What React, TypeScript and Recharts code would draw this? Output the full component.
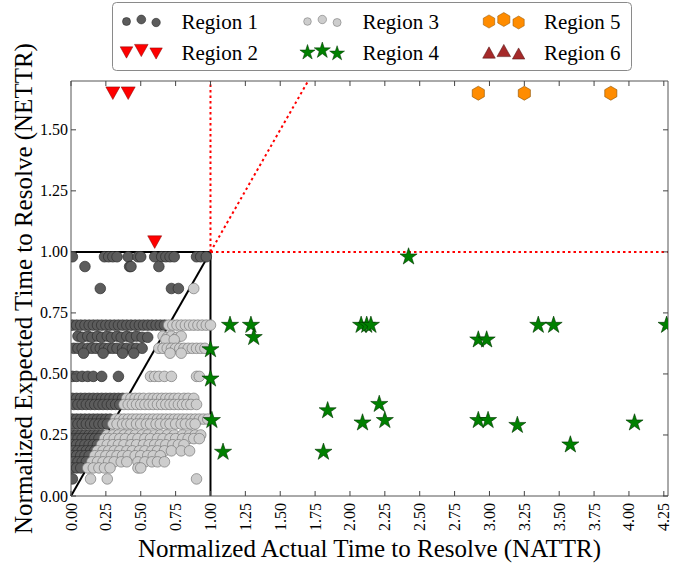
import React from 'react';
import { ScatterChart, Scatter, XAxis, YAxis, ReferenceLine } from 'recharts';

const FONT = 'Liberation Serif';

const X_MAX = 4.28;
const Y_MAX = 1.7;

const xTicks = [0, 0.25, 0.5, 0.75, 1, 1.25, 1.5, 1.75, 2, 2.25, 2.5, 2.75, 3, 3.25, 3.5, 3.75, 4, 4.25];
const yTicks = [0, 0.25, 0.5, 0.75, 1, 1.25, 1.5];

// Region 1: inside the unit box, NETTR >= NATTR
const region1: [number, number][] = [
  [0.01, 0.98], [0.24, 0.98], [0.27, 0.98], [0.3, 0.98], [0.33, 0.98], [0.41, 0.98], [0.48, 0.98], [0.5, 0.98],
  [0.6, 0.98], [0.65, 0.98], [0.68, 0.98], [0.71, 0.98], [0.74, 0.98], [0.9, 0.98], [0.93, 0.98], [0.97, 0.98],
  [0.1, 0.94], [0.42, 0.94], [0.43, 0.94], [0.63, 0.94],
  [0.21, 0.85], [0.72, 0.85], [0.77, 0.85],
  [0.01, 0.7], [0.04, 0.7], [0.07, 0.7], [0.1, 0.7], [0.13, 0.7], [0.16, 0.7], [0.19, 0.7], [0.22, 0.7],
  [0.25, 0.7], [0.28, 0.7], [0.31, 0.7], [0.34, 0.7], [0.37, 0.7], [0.4, 0.7], [0.43, 0.7], [0.46, 0.7],
  [0.49, 0.7], [0.52, 0.7], [0.55, 0.7], [0.58, 0.7], [0.61, 0.7], [0.64, 0.7], [0.67, 0.7],
  [0.05, 0.655], [0.08, 0.65], [0.12, 0.655], [0.15, 0.65], [0.19, 0.655], [0.22, 0.65], [0.26, 0.655],
  [0.29, 0.65], [0.33, 0.655], [0.36, 0.65], [0.4, 0.655], [0.43, 0.65], [0.47, 0.655], [0.51, 0.65], [0.55, 0.65],
  [0.02, 0.605], [0.05, 0.605], [0.08, 0.605], [0.12, 0.605], [0.15, 0.605], [0.18, 0.605], [0.21, 0.605],
  [0.24, 0.605], [0.27, 0.605], [0.3, 0.605], [0.33, 0.605], [0.37, 0.605], [0.4, 0.605], [0.44, 0.605],
  [0.47, 0.605], [0.51, 0.605],
  [0.09, 0.585], [0.23, 0.585], [0.37, 0.585], [0.45, 0.585],
  [0.01, 0.49], [0.04, 0.49], [0.08, 0.49], [0.12, 0.49], [0.16, 0.49], [0.22, 0.49], [0.34, 0.49],
  [0.01, 0.4], [0.04, 0.4], [0.07, 0.4], [0.1, 0.4], [0.13, 0.4], [0.16, 0.4], [0.19, 0.4], [0.22, 0.4],
  [0.25, 0.4], [0.28, 0.4], [0.31, 0.4], [0.34, 0.4], [0.37, 0.4],
  [0.02, 0.375], [0.05, 0.375], [0.08, 0.375], [0.11, 0.375], [0.14, 0.375], [0.17, 0.375], [0.2, 0.375],
  [0.23, 0.375], [0.26, 0.375], [0.29, 0.375], [0.32, 0.375], [0.35, 0.375],
  [0.01, 0.315], [0.04, 0.315], [0.07, 0.315], [0.1, 0.315], [0.13, 0.315], [0.16, 0.315], [0.19, 0.315],
  [0.22, 0.315], [0.25, 0.315], [0.28, 0.315],
  [0.02, 0.295], [0.05, 0.295], [0.08, 0.295], [0.11, 0.295], [0.14, 0.295], [0.17, 0.295], [0.2, 0.295],
  [0.23, 0.295], [0.26, 0.295],
  [0.01, 0.25], [0.04, 0.25], [0.07, 0.25], [0.1, 0.25], [0.13, 0.25], [0.16, 0.25], [0.19, 0.25], [0.22, 0.25],
  [0.02, 0.235], [0.05, 0.235], [0.08, 0.235], [0.11, 0.235], [0.14, 0.235], [0.17, 0.235], [0.2, 0.235],
  [0.01, 0.21], [0.04, 0.21], [0.07, 0.21], [0.1, 0.21], [0.13, 0.21], [0.16, 0.21], [0.19, 0.21],
  [0.02, 0.185], [0.05, 0.185], [0.08, 0.185], [0.11, 0.185], [0.14, 0.185], [0.17, 0.185],
  [0.01, 0.165], [0.04, 0.165], [0.07, 0.165], [0.1, 0.165], [0.13, 0.165],
  [0.02, 0.14], [0.05, 0.14], [0.08, 0.14], [0.11, 0.14],
  [0.01, 0.115], [0.04, 0.115], [0.07, 0.115],
  [0.01, 0.07],
];

// Region 3: inside the unit box, NETTR < NATTR
const region3: [number, number][] = [
  [0.88, 0.85],
  [0.7, 0.7], [0.73, 0.7], [0.76, 0.7], [0.79, 0.7], [0.82, 0.7], [0.85, 0.7], [0.88, 0.7], [0.91, 0.7],
  [0.94, 0.7], [0.97, 0.7], [1.0, 0.7],
  [0.66, 0.655], [0.69, 0.65], [0.72, 0.655], [0.76, 0.65], [0.79, 0.655], [0.68, 0.64], [0.74, 0.64],
  [0.63, 0.605], [0.66, 0.605], [0.69, 0.605], [0.72, 0.605], [0.75, 0.605], [0.78, 0.605], [0.81, 0.605],
  [0.84, 0.605], [0.87, 0.605], [0.9, 0.605], [0.93, 0.605], [0.96, 0.605],
  [0.71, 0.585], [0.79, 0.585],
  [0.57, 0.49], [0.6, 0.49], [0.63, 0.49], [0.67, 0.49], [0.72, 0.49], [0.9, 0.49], [0.92, 0.49],
  [0.4, 0.4], [0.43, 0.4], [0.46, 0.4], [0.49, 0.4], [0.52, 0.4], [0.56, 0.4], [0.59, 0.4], [0.62, 0.4],
  [0.65, 0.4], [0.68, 0.4], [0.71, 0.4], [0.74, 0.4], [0.77, 0.4], [0.81, 0.4], [0.84, 0.4], [0.88, 0.4],
  [0.38, 0.375], [0.41, 0.375], [0.44, 0.375], [0.47, 0.375], [0.5, 0.375], [0.53, 0.375], [0.56, 0.375],
  [0.59, 0.375], [0.62, 0.375], [0.65, 0.375], [0.68, 0.375], [0.71, 0.375], [0.74, 0.375], [0.77, 0.375],
  [0.8, 0.375], [0.83, 0.375], [0.86, 0.375], [0.9, 0.375],
  [0.32, 0.315], [0.35, 0.315], [0.38, 0.315], [0.41, 0.315], [0.44, 0.315], [0.47, 0.315], [0.5, 0.315],
  [0.53, 0.315], [0.56, 0.315], [0.59, 0.315], [0.62, 0.315], [0.65, 0.315], [0.68, 0.315], [0.71, 0.315],
  [0.74, 0.315], [0.77, 0.315], [0.8, 0.315], [0.83, 0.315], [0.86, 0.315], [0.89, 0.315], [0.92, 0.315],
  [0.95, 0.315], [0.98, 0.315],
  [0.3, 0.295], [0.33, 0.295], [0.37, 0.295], [0.4, 0.295], [0.43, 0.295], [0.47, 0.295], [0.5, 0.295],
  [0.54, 0.295], [0.57, 0.295], [0.61, 0.295], [0.64, 0.295], [0.68, 0.295], [0.71, 0.295], [0.75, 0.295],
  [0.79, 0.295], [0.82, 0.295], [0.86, 0.295], [0.89, 0.295],
  [0.26, 0.25], [0.3, 0.25], [0.34, 0.25], [0.38, 0.25], [0.42, 0.25], [0.46, 0.25], [0.51, 0.25],
  [0.55, 0.25], [0.6, 0.25], [0.64, 0.25], [0.69, 0.25], [0.74, 0.25], [0.8, 0.25], [0.85, 0.25],
  [0.89, 0.25], [0.93, 0.25],
  [0.24, 0.235], [0.27, 0.235], [0.31, 0.235], [0.35, 0.235], [0.39, 0.235], [0.44, 0.235], [0.48, 0.235],
  [0.53, 0.235], [0.57, 0.235], [0.62, 0.235], [0.66, 0.235], [0.71, 0.235], [0.75, 0.235], [0.8, 0.235],
  [0.84, 0.235], [0.88, 0.235], [0.92, 0.235],
  [0.22, 0.21], [0.26, 0.21], [0.3, 0.21], [0.34, 0.21], [0.38, 0.21], [0.43, 0.21], [0.47, 0.21],
  [0.52, 0.21], [0.56, 0.21], [0.6, 0.21], [0.64, 0.21], [0.68, 0.21], [0.73, 0.21], [0.77, 0.21], [0.81, 0.21],
  [0.19, 0.185], [0.23, 0.185], [0.27, 0.185], [0.31, 0.185], [0.35, 0.185], [0.4, 0.185], [0.44, 0.185],
  [0.49, 0.185], [0.53, 0.185], [0.58, 0.185], [0.62, 0.185], [0.67, 0.185], [0.72, 0.185], [0.79, 0.185],
  [0.85, 0.185],
  [0.17, 0.165], [0.21, 0.165], [0.25, 0.165], [0.29, 0.165], [0.33, 0.165], [0.37, 0.165], [0.41, 0.165],
  [0.46, 0.165], [0.5, 0.165], [0.55, 0.165], [0.59, 0.165], [0.64, 0.165],
  [0.15, 0.14], [0.19, 0.14], [0.23, 0.14], [0.27, 0.14], [0.31, 0.14], [0.36, 0.14], [0.4, 0.14],
  [0.48, 0.14], [0.53, 0.14], [0.58, 0.14], [0.62, 0.14], [0.67, 0.14],
  [0.12, 0.115], [0.16, 0.115], [0.2, 0.115], [0.24, 0.115], [0.28, 0.115], [0.48, 0.115], [0.5, 0.115],
  [0.14, 0.07], [0.26, 0.07], [0.9, 0.07],
];

// Region 2: NATTR < 1, NETTR > 1
const region2: [number, number][] = [
  [0.3, 1.65], [0.41, 1.65], [0.6, 1.04],
];

// Region 4: NATTR > 1, NETTR < 1
const region4: [number, number][] = [
  [2.42, 0.98],
  [1.14, 0.7], [1.29, 0.7], [1.31, 0.65], [2.08, 0.7], [2.12, 0.7], [2.15, 0.7],
  [2.92, 0.64], [2.98, 0.64], [3.35, 0.7], [3.46, 0.7], [4.27, 0.7],
  [1.0, 0.6], [1.0, 0.48], [1.01, 0.31],
  [1.84, 0.35], [2.21, 0.376], [2.25, 0.31], [2.09, 0.3],
  [2.92, 0.31], [2.99, 0.31], [3.2, 0.29], [4.04, 0.3],
  [3.58, 0.21], [1.09, 0.18], [1.81, 0.18],
];

// Region 5: NATTR > 1, NETTR > 1
const region5: [number, number][] = [
  [2.92, 1.65], [3.25, 1.65], [3.87, 1.65],
];

// Region 6: none in this sample
const region6: [number, number][] = [];

const toPoints = (arr: [number, number][]) => arr.map(([x, y]) => ({ x, y }));

const starPath = (cx: number, cy: number, R: number) => {
  const r = R * 0.382;
  let d = '';
  for (let i = 0; i < 10; i++) {
    const rad = i % 2 === 0 ? R : r;
    const a = (-90 + i * 36) * (Math.PI / 180);
    d += `${i === 0 ? 'M' : 'L'}${cx + rad * Math.cos(a)},${cy + rad * Math.sin(a)}`;
  }
  return d + 'Z';
};

const hexPath = (cx: number, cy: number, R: number) => {
  let d = '';
  for (let i = 0; i < 6; i++) {
    const a = (-90 + i * 60) * (Math.PI / 180);
    d += `${i === 0 ? 'M' : 'L'}${cx + R * Math.cos(a)},${cy + R * Math.sin(a)}`;
  }
  return d + 'Z';
};

const triDownPath = (cx: number, cy: number, s: number) =>
  `M${cx - s},${cy - s * 0.9}L${cx + s},${cy - s * 0.9}L${cx},${cy + s * 0.9}Z`;
const triUpPath = (cx: number, cy: number, s: number) =>
  `M${cx - s},${cy + s * 0.9}L${cx + s},${cy + s * 0.9}L${cx},${cy - s * 0.9}Z`;

const DarkDot = (p: any) => <circle cx={p.cx} cy={p.cy} r={5.3} fill="#5c5c5c" stroke="#2e2e2e" strokeWidth={0.7} />;
const LightDot = (p: any) => <circle cx={p.cx} cy={p.cy} r={5.3} fill="#cdcdcd" stroke="#7a7a7a" strokeWidth={0.7} />;
const RedTri = (p: any) => <path d={triDownPath(p.cx, p.cy, 7)} fill="#ff0000" stroke="#800000" strokeWidth={0.5} />;
const GreenStar = (p: any) => <path d={starPath(p.cx, p.cy, 9)} fill="#008000" stroke="#003300" strokeWidth={0.6} />;
const OrangeHex = (p: any) => <path d={hexPath(p.cx, p.cy, 7)} fill="#ff8c00" stroke="#8a5000" strokeWidth={0.6} />;
const BrownTri = (p: any) => <path d={triUpPath(p.cx, p.cy, 7)} fill="#a52a2a" stroke="#4a1010" strokeWidth={0.5} />;

const BottomTick = (props: any) => {
  const { x, y, payload } = props;
  const ty = y + 7;
  return (
    <g>
      <line x1={x} y1={y} x2={x} y2={y - 5} stroke="#444" />
      <text x={x} y={ty} transform={`rotate(-90 ${x} ${ty})`} textAnchor="end" dominantBaseline="central"
        fontSize={16} fontFamily={FONT} fill="#000">{payload.value.toFixed(2)}</text>
    </g>
  );
};

const LeftTick = (props: any) => {
  const { x, y, payload } = props;
  return (
    <g>
      <line x1={x} y1={y} x2={x + 5} y2={y} stroke="#444" />
      <text x={x - 3} y={y} textAnchor="end" dominantBaseline="central"
        fontSize={16} fontFamily={FONT} fill="#000">{payload.value.toFixed(2)}</text>
    </g>
  );
};

const TopTick = (props: any) => <line x1={props.x} y1={props.y} x2={props.x} y2={props.y + 5} stroke="#444" />;
const RightTick = (props: any) => <line x1={props.x} y1={props.y} x2={props.x - 5} y2={props.y} stroke="#444" />;

const legendRows = [
  [
    { label: 'Region 1', draw: (cx: number, cy: number, i: number) => <circle cx={cx} cy={cy} r={[4, 4.4, 4.2][i]} fill="#5c5c5c" stroke="#2e2e2e" strokeWidth={0.6} /> },
    { label: 'Region 3', draw: (cx: number, cy: number, i: number) => <circle cx={cx} cy={cy} r={[3.8, 4.2, 4][i]} fill="#cdcdcd" stroke="#7a7a7a" strokeWidth={0.6} /> },
    { label: 'Region 5', draw: (cx: number, cy: number, i: number) => <path d={hexPath(cx, cy, [6.6, 7, 6.5][i])} fill="#ff8c00" stroke="#8a5000" strokeWidth={0.5} /> },
  ],
  [
    { label: 'Region 2', draw: (cx: number, cy: number, i: number) => <path d={triDownPath(cx, cy, [6.3, 6.8, 6.2][i])} fill="#ff0000" stroke="#800000" strokeWidth={0.5} /> },
    { label: 'Region 4', draw: (cx: number, cy: number, i: number) => <path d={starPath(cx, cy, [8, 8.5, 7.8][i])} fill="#008000" stroke="#003300" strokeWidth={0.5} /> },
    { label: 'Region 6', draw: (cx: number, cy: number, i: number) => <path d={triUpPath(cx, cy, [6.3, 6.8, 6.2][i])} fill="#a52a2a" stroke="#4a1010" strokeWidth={0.5} /> },
  ],
];

const ChartLegend = () => {
  const colX = [126.5, 307.5, 489];
  const rowY = [21, 52];
  const dy = [0.5, -1.5, 1.5];
  return (
    <svg width={683} height={80} style={{ position: 'absolute', left: 0, top: 0 }}>
      <rect x={112.5} y={2.5} width={519} height={68} rx={4} fill="#fff" stroke="#8a8a8a" strokeWidth={1} />
      {legendRows.map((row, r) =>
        row.map((item, c) => (
          <g key={`${r}-${c}`}>
            {[0, 1, 2].map((i) => (
              <g key={i}>{item.draw(colX[c] + i * 14.8, rowY[r] + dy[i], i)}</g>
            ))}
            <text x={colX[c] + 55} y={rowY[r] + 7.5} fontSize={21} fontFamily={FONT} fill="#000">{item.label}</text>
          </g>
        ))
      )}
    </svg>
  );
};

export default function App() {
  return (
    <div style={{ position: 'absolute', left: 0, top: 0, width: 683, height: 563, background: '#fff', fontFamily: FONT }}>
      <ScatterChart width={683} height={563} margin={{ top: 80, right: 14, bottom: 0, left: 0 }}>
        <XAxis
          dataKey="x" type="number" domain={[0, X_MAX]} ticks={xTicks} interval={0} allowDataOverflow
          height={67} tickSize={0} tickMargin={0} tickLine={false} tick={BottomTick}
          axisLine={{ stroke: '#555' }}
          label={{ value: 'Normalized Actual Time to Resolve (NATTR)', position: 'insideBottom', offset: 6,
            style: { fontSize: 25, fontFamily: FONT, fill: '#000' } }}
        />
        <XAxis
          xAxisId="top" orientation="top" dataKey="x" type="number" domain={[0, X_MAX]} ticks={xTicks}
          interval={0} allowDataOverflow height={1} tickSize={0} tickMargin={0} tickLine={false} tick={TopTick}
          axisLine={{ stroke: '#555' }}
        />
        <YAxis
          dataKey="y" type="number" domain={[0, Y_MAX]} ticks={yTicks} interval={0} allowDataOverflow
          width={71} tickSize={0} tickMargin={0} tickLine={false} tick={LeftTick}
          axisLine={{ stroke: '#555' }}
          label={{ value: 'Normalized Expected Time to Resolve (NETTR)', angle: -90, position: 'insideLeft', offset: 23,
            style: { fontSize: 25, fontFamily: FONT, fill: '#000', textAnchor: 'middle' } }}
        />
        <YAxis
          yAxisId="right" orientation="right" dataKey="y" type="number" domain={[0, Y_MAX]} ticks={yTicks}
          interval={0} allowDataOverflow width={1} tickSize={0} tickMargin={0} tickLine={false} tick={RightTick}
          axisLine={{ stroke: '#555' }}
        />
        <Scatter name="Region 1" data={toPoints(region1)} shape={DarkDot} isAnimationActive={false} />
        <Scatter name="Region 3" data={toPoints(region3)} shape={LightDot} isAnimationActive={false} />
        <ReferenceLine segment={[{ x: 0, y: 1 }, { x: 1, y: 1 }]} stroke="#000" strokeWidth={2} />
        <ReferenceLine segment={[{ x: 1, y: 0 }, { x: 1, y: 1 }]} stroke="#000" strokeWidth={2} />
        <ReferenceLine segment={[{ x: 0, y: 0 }, { x: 1, y: 1 }]} stroke="#000" strokeWidth={2} />
        <ReferenceLine segment={[{ x: 1, y: 1 }, { x: 1, y: Y_MAX }]} stroke="#ff0000" strokeWidth={2} strokeDasharray="2.5 3" />
        <ReferenceLine segment={[{ x: 1, y: 1 }, { x: X_MAX, y: 1 }]} stroke="#ff0000" strokeWidth={2} strokeDasharray="2.5 3" />
        <ReferenceLine segment={[{ x: 1, y: 1 }, { x: Y_MAX, y: Y_MAX }]} stroke="#ff0000" strokeWidth={2} strokeDasharray="2.5 3" />
        <Scatter name="Region 2" data={toPoints(region2)} shape={RedTri} isAnimationActive={false} />
        <Scatter name="Region 4" data={toPoints(region4)} shape={GreenStar} isAnimationActive={false} />
        <Scatter name="Region 5" data={toPoints(region5)} shape={OrangeHex} isAnimationActive={false} />
        <Scatter name="Region 6" data={toPoints(region6)} shape={BrownTri} isAnimationActive={false} />
      </ScatterChart>
      <ChartLegend />
    </div>
  );
}
